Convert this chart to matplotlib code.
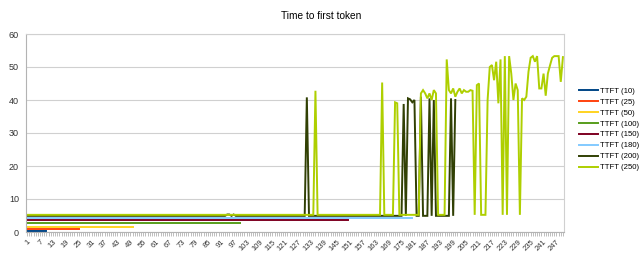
import matplotlib
matplotlib.use("Agg")
import matplotlib.pyplot as plt
import numpy as np

plt.rcParams["font.family"] = ["Liberation Sans", "DejaVu Sans"]

labels = ["TTFT (10)", "TTFT (25)", "TTFT (50)", "TTFT (100)",
          "TTFT (150)", "TTFT (180)", "TTFT (200)", "TTFT (250)"]
colors = ["#004586", "#ff420e", "#ffd320", "#579d1c",
          "#7e0021", "#83caff", "#314004", "#aecf00"]

ttft_10 = [0.4] * 10
ttft_25 = [0.8] * 25
ttft_50 = [1.4] * 50
ttft_100 = [2.6] * 100
ttft_150 = [3.6] * 150
ttft_180 = [4.2] * 180

ttft_200 = [
    4.9, 4.9, 4.9, 4.9, 4.9, 4.9, 4.9, 4.9, 4.9, 4.9,
    4.9, 4.9, 4.9, 4.9, 4.9, 4.9, 4.9, 4.9, 4.9, 4.9,
    4.9, 4.9, 4.9, 4.9, 4.9, 4.9, 4.9, 4.9, 4.9, 4.9,
    4.9, 4.9, 4.9, 4.9, 4.9, 4.9, 4.9, 4.9, 4.9, 4.9,
    4.9, 4.9, 4.9, 4.9, 4.9, 4.9, 4.9, 4.9, 4.9, 4.9,
    4.9, 4.9, 4.9, 4.9, 4.9, 4.9, 4.9, 4.9, 4.9, 4.9,
    4.9, 4.9, 4.9, 4.9, 4.9, 4.9, 4.9, 4.9, 4.9, 4.9,
    4.9, 4.9, 4.9, 4.9, 4.9, 4.9, 4.9, 4.9, 4.9, 4.9,
    4.9, 4.9, 4.9, 4.9, 4.9, 4.9, 4.9, 4.9, 4.9, 4.9,
    4.9, 4.9, 4.9, 5.3, 5.3, 4.9, 5.3, 4.9, 4.9, 4.9,
    4.9, 4.9, 4.9, 4.9, 4.9, 4.9, 4.9, 4.9, 4.9, 4.9,
    4.9, 4.9, 4.9, 4.9, 4.9, 4.9, 4.9, 4.9, 4.9, 4.9,
    4.9, 4.9, 4.9, 4.9, 4.9, 4.9, 4.9, 4.9, 4.9, 4.9,
    40.8, 4.9, 4.9, 4.9, 4.9, 4.9, 4.9, 4.9, 4.9, 4.9,
    4.9, 4.9, 4.9, 4.9, 4.9, 4.9, 4.9, 4.9, 4.9, 4.9,
    4.9, 4.9, 4.9, 4.9, 4.9, 4.9, 4.9, 4.9, 4.9, 4.9,
    4.9, 4.9, 4.9, 4.9, 4.9, 4.9, 4.9, 4.9, 4.9, 4.9,
    4.9, 4.9, 4.9, 4.9, 4.9, 38.8, 4.9, 40.5, 40.2, 39.3,
    40.0, 4.9, 4.9, 41.0, 4.9, 4.9, 4.9, 40.5, 4.9, 40.0,
    4.9, 4.9, 4.9, 4.9, 4.9, 4.9, 4.9, 40.5, 4.9, 40.0,
]

ttft_250 = [
    5.2, 5.2, 5.2, 5.2, 5.2, 5.2, 5.2, 5.2, 5.2, 5.2,
    5.2, 5.2, 5.2, 5.2, 5.2, 5.2, 5.2, 5.2, 5.2, 5.2,
    5.2, 5.2, 5.2, 5.2, 5.2, 5.2, 5.2, 5.2, 5.2, 5.2,
    5.2, 5.2, 5.2, 5.2, 5.2, 5.2, 5.2, 5.2, 5.2, 5.2,
    5.2, 5.2, 5.2, 5.2, 5.2, 5.2, 5.2, 5.2, 5.2, 5.2,
    5.2, 5.2, 5.2, 5.2, 5.2, 5.2, 5.2, 5.2, 5.2, 5.2,
    5.2, 5.2, 5.2, 5.2, 5.2, 5.2, 5.2, 5.2, 5.2, 5.2,
    5.2, 5.2, 5.2, 5.2, 5.2, 5.2, 5.2, 5.2, 5.2, 5.2,
    5.2, 5.2, 5.2, 5.2, 5.2, 5.2, 5.2, 5.2, 5.2, 5.2,
    5.2, 5.2, 5.2, 5.2, 5.2, 5.2, 5.2, 5.2, 5.2, 5.2,
    5.2, 5.2, 5.2, 5.2, 5.2, 5.2, 5.2, 5.2, 5.2, 5.2,
    5.2, 5.2, 5.2, 5.2, 5.2, 5.2, 5.2, 5.2, 5.2, 5.2,
    5.2, 5.2, 5.2, 5.2, 5.2, 5.2, 5.2, 5.2, 5.2, 5.2,
    5.2, 5.2, 5.2, 5.2, 42.8, 5.2, 5.2, 5.2, 5.2, 5.2,
    5.2, 5.2, 5.2, 5.2, 5.2, 5.2, 5.2, 5.2, 5.2, 5.2,
    5.2, 5.2, 5.2, 5.2, 5.2, 5.2, 5.2, 5.2, 5.2, 5.2,
    5.2, 5.2, 5.2, 5.2, 5.2, 45.3, 5.2, 5.2, 5.2, 5.2,
    5.2, 39.3, 39.0, 5.2, 5.2, 5.2, 5.2, 5.2, 5.2, 5.2,
    5.2, 5.2, 5.2, 42.0, 43.0, 42.0, 40.5, 42.0, 40.0, 43.0,
    42.0, 5.2, 5.2, 5.2, 5.2, 52.3, 43.0, 42.0, 43.5, 41.0,
    42.5, 43.5, 42.0, 43.0, 42.5, 42.5, 43.0, 42.8, 5.2, 44.5,
    45.0, 5.2, 5.2, 5.2, 40.0, 50.0, 50.6, 46.0, 51.6, 39.0,
    52.3, 5.2, 53.3, 5.2, 53.3, 48.0, 40.0, 45.0, 43.0, 5.2,
    40.5, 40.0, 41.0, 48.6, 52.8, 53.3, 51.6, 53.3, 43.5, 43.5,
    48.0, 41.3, 48.0, 50.5, 52.8, 53.3, 53.3, 53.3, 45.5, 53.0,
]

series = [ttft_10, ttft_25, ttft_50, ttft_100, ttft_150, ttft_180, ttft_200, ttft_250]
n_categories = 250
x_labels = [str(i) for i in range(1, n_categories + 1, 6)]
y_ticks = [0, 10, 20, 30, 40, 50, 60]

fig = plt.figure(figsize=(6.43, 2.57), dpi=100)
ax = fig.add_axes([26 / 643, 1 - 232 / 257, (564 - 26) / 643, (232 - 34) / 257])

for vals, lab, col in zip(series, labels, colors):
    xs = np.arange(1, len(vals) + 1)
    ax.plot(xs, vals, color=col, lw=1.4, label=lab, solid_joinstyle="miter")

ax.set_xlim(0.5, n_categories + 0.5)
ax.set_ylim(0, 60)
ax.set_yticks(y_ticks)
ax.set_yticklabels([str(v) for v in y_ticks], fontsize=6.5, color="#333333")
major = list(range(1, n_categories + 1, 6))
ax.set_xticks(major)
ax.set_xticklabels(x_labels, fontsize=5.5, rotation=45, ha="right",
                   rotation_mode="anchor", color="#333333")
ax.set_xticks(np.arange(1, n_categories + 1), minor=True)
ax.tick_params(axis="x", which="both", length=3, color="#b3b3b3", width=0.6, pad=2)
ax.tick_params(axis="y", length=0, pad=5)
ax.grid(axis="y", color="#d0d0d0", lw=0.8)
ax.set_axisbelow(True)
for s in ax.spines.values():
    s.set_color("#d0d0d0")
    s.set_linewidth(0.8)
ax.spines["left"].set_color("#b3b3b3")
ax.spines["bottom"].set_color("#b3b3b3")

fig.text(0.5, 1 - 16 / 257, "Time to first token",
         ha="center", va="center", fontsize=7.3, color="#000000")

handles, labs = ax.get_legend_handles_labels()
fig.legend(handles, labs, loc="center left", bbox_to_anchor=(0.896, 0.497),
           frameon=False, fontsize=5.6, handlelength=2.4, handletextpad=0.3,
           labelspacing=0.45, borderaxespad=0)

fig.savefig("out.png", dpi=100)
